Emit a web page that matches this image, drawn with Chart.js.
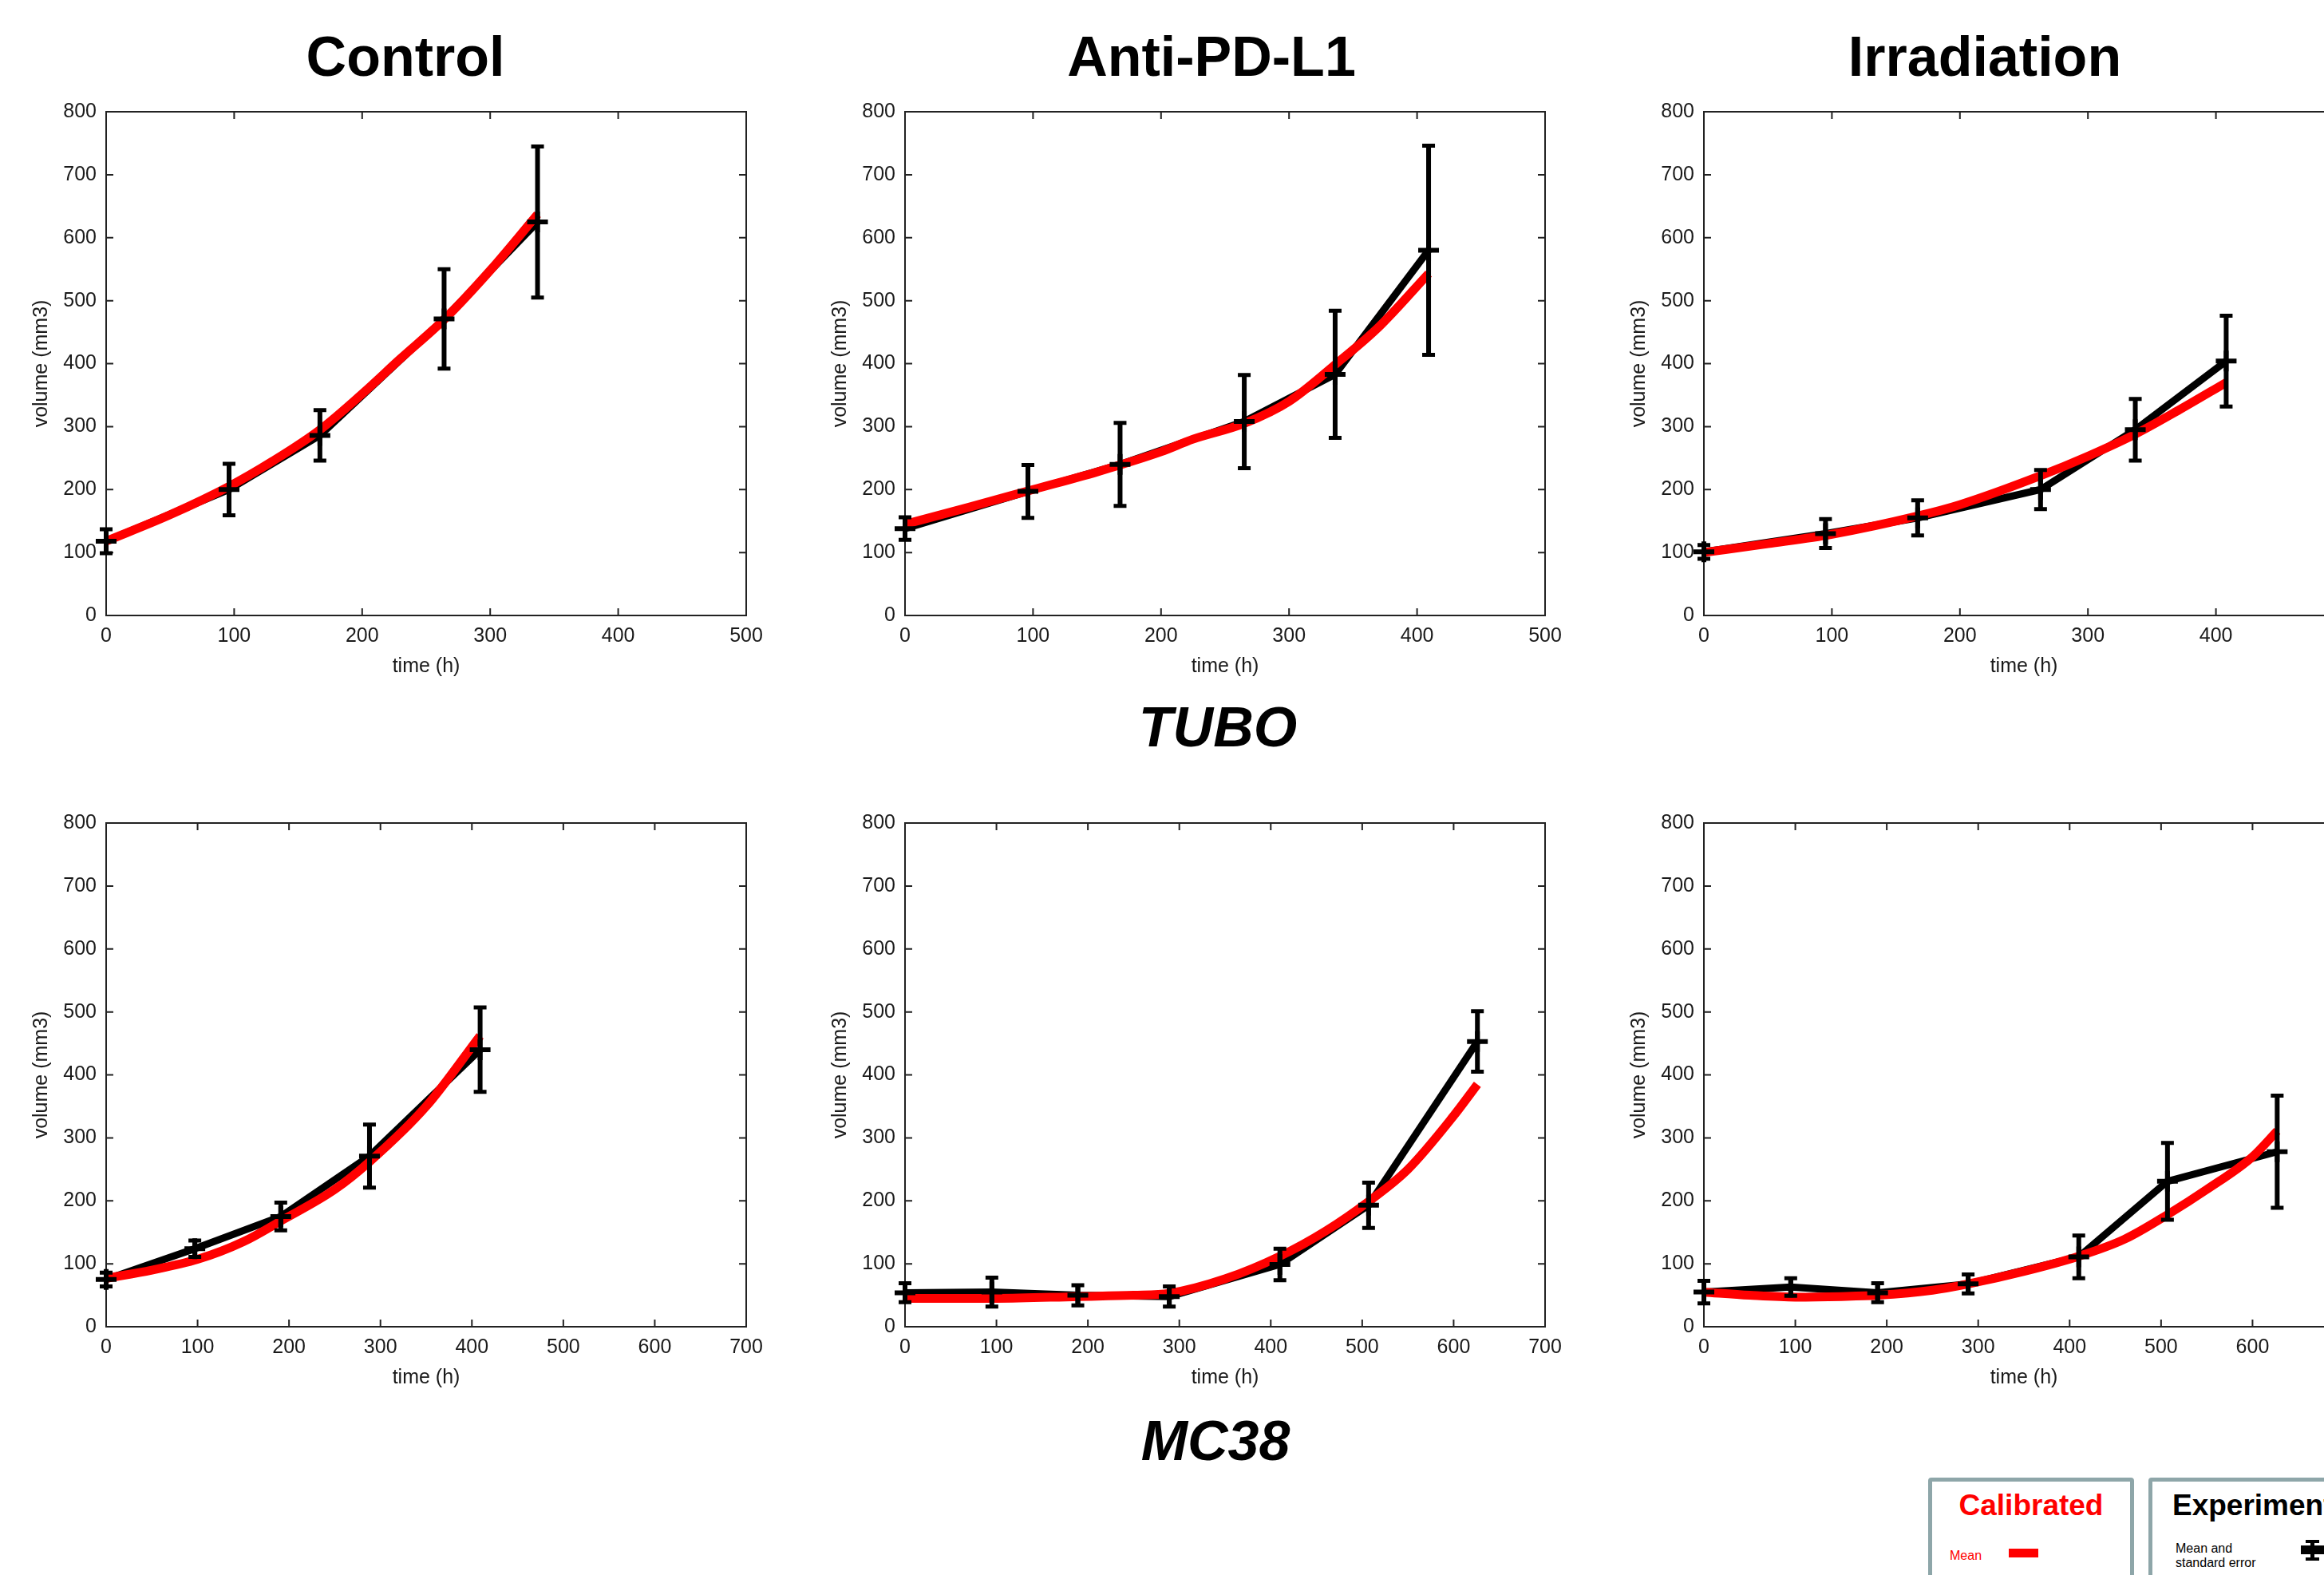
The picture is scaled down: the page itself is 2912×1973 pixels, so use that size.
<!DOCTYPE html>
<html>
<head>
<meta charset="utf-8">
<script src="https://cdn.jsdelivr.net/npm/chart.js@4.4.0/dist/chart.umd.min.js"></script>
<style>
  body { margin: 0; width: 2912px; height: 1973px; overflow: hidden; background: #fff; position: relative;
         font-family: "Liberation Sans", Arial, sans-serif; }
  canvas { position: absolute; }
  .title { position: absolute; width: 600px; text-align: center; font-weight: bold; font-size: 70px; line-height: 1; color: #000; }
  .group { font-style: italic; }
  .box { position: absolute; top: 1851px; height: 200px; border: 5px solid #8ea6a9; border-radius: 4px; box-sizing: border-box; }
  .txt { position: absolute; line-height: 1; white-space: nowrap; }
  .blk { position: absolute; background: #000; }
</style>
</head>
<body>

<div class="title" style="left:208px; top:36px;">Control</div>
<div class="title" style="left:1218px; top:36px;">Anti-PD-L1</div>
<div class="title" style="left:2187px; top:36px;">Irradiation</div>
<div class="title group" style="left:1226px; top:876px;">TUBO</div>
<div class="title group" style="left:1223px; top:1770px;">MC38</div>

<canvas id="tuboControl" width="962" height="758" style="left:13px; top:113px;"></canvas>
<canvas id="tuboAnti" width="962" height="758" style="left:1014px; top:113px;"></canvas>
<canvas id="tuboIrr" width="962" height="758" style="left:2015px; top:113px;"></canvas>
<canvas id="mcControl" width="962" height="758" style="left:13px; top:1004px;"></canvas>
<canvas id="mcAnti" width="962" height="758" style="left:1014px; top:1004px;"></canvas>
<canvas id="mcIrr" width="962" height="758" style="left:2015px; top:1004px;"></canvas>

<!-- legend boxes -->
<div class="box" style="left:2416px; width:258px;"></div>
<div class="txt" style="left:2416px; width:258px; text-align:center; top:1867px; font-size:37px; font-weight:bold; color:#ff0000;">Calibrated</div>
<div class="txt" style="left:2443px; top:1941px; font-size:16px; color:#ff0000;">Mean</div>
<div class="blk" style="left:2517px; top:1940px; width:37px; height:11px; background:#ff0000;"></div>

<div class="box" style="left:2692px; width:320px;"></div>
<div class="txt" style="left:2722px; top:1867px; font-size:37px; font-weight:bold; color:#000;">Experimental</div>
<div class="txt" style="left:2726px; top:1931px; font-size:16px; line-height:18px; color:#000;">Mean and<br>standard error</div>
<div class="blk" style="left:2883px; top:1936px; width:40px; height:11px;"></div>
<div class="blk" style="left:2895px; top:1930px; width:5px; height:24px;"></div>
<div class="blk" style="left:2889px; top:1929px; width:17px; height:4px;"></div>
<div class="blk" style="left:2889px; top:1951px; width:17px; height:4px;"></div>

<script>
// TUBO - experimental mean, standard error, calibrated model
const tuboControlTime = [0, 96, 167, 264, 337];
const tuboControlMean = [118, 200, 286, 471, 625];
const tuboControlErr  = [19, 41, 40, 79, 120];
const tuboControlModelTime = [0, 50, 96, 130, 167, 200, 230, 264, 300, 337];
const tuboControlModel     = [118, 160, 205, 245, 295, 352, 408, 470, 548, 637];

const tuboAntiTime = [0, 96, 168, 265, 336, 409];
const tuboAntiMean = [138, 197, 240, 308, 383, 580];
const tuboAntiErr  = [18, 42, 66, 74, 101, 166];
const tuboAntiModelTime = [0, 50, 100, 150, 200, 225, 265, 300, 337, 370, 409];
const tuboAntiModel     = [145, 172, 200, 228, 260, 280, 305, 340, 400, 458, 543];

const tuboIrrTime = [0, 95, 167, 263, 337, 408];
const tuboIrrMean = [101, 130, 155, 200, 295, 404];
const tuboIrrErr  = [11, 23, 28, 31, 49, 72];
const tuboIrrModelTime = [0, 50, 100, 167, 200, 263, 300, 337, 370, 408];
const tuboIrrModel     = [100, 114, 129, 158, 176, 222, 253, 288, 325, 370];

// MC38
const mcControlTime = [0, 97, 191, 288, 409];
const mcControlMean = [75, 124, 175, 271, 440];
const mcControlErr  = [11, 13, 22, 50, 67];
const mcControlModelTime = [0, 50, 100, 150, 191, 250, 288, 350, 409];
const mcControlModel     = [77, 90, 107, 135, 168, 218, 262, 350, 462];

const mcAntiTime = [0, 95, 189, 289, 410, 507, 626];
const mcAntiMean = [54, 55, 50, 48, 99, 193, 453];
const mcAntiErr  = [15, 23, 16, 16, 25, 36, 48];
const mcAntiModelTime = [0, 100, 189, 250, 289, 350, 410, 460, 507, 550, 600, 626];
const mcAntiModel     = [45, 45, 48, 50, 53, 76, 112, 152, 199, 250, 335, 385];

const mcIrrTime = [0, 95, 190, 289, 410, 507, 627];
const mcIrrMean = [55, 63, 54, 68, 111, 231, 278];
const mcIrrErr  = [18, 14, 15, 15, 34, 61, 89];
const mcIrrModelTime = [0, 50, 100, 150, 190, 250, 289, 350, 410, 460, 507, 550, 600, 627];
const mcIrrModel     = [55, 50, 47, 48, 50, 58, 68, 88, 112, 139, 178, 218, 270, 311];

const yMax = 800;
const xMaxTubo = 500;
const xMaxMc = 700;

Chart.defaults.font.family = '"Liberation Sans", Arial, sans-serif';
Chart.defaults.color = '#1a1a1a';

function toPoints(xs, ys) {
  return xs.map((x, i) => ({ x: x, y: ys[i] }));
}

// matlab style box with ticks pointing inside
const boxPlugin = {
  id: 'box',
  beforeDatasetsDraw(chart) {
    const { ctx, chartArea: a, scales } = chart;
    ctx.save();
    ctx.strokeStyle = '#222';
    ctx.lineWidth = 2;
    ctx.strokeRect(a.left, a.top, a.right - a.left, a.bottom - a.top);
    scales.x.ticks.forEach(t => {
      const px = scales.x.getPixelForValue(t.value);
      ctx.beginPath();
      ctx.moveTo(px, a.bottom); ctx.lineTo(px, a.bottom - 9);
      ctx.moveTo(px, a.top); ctx.lineTo(px, a.top + 9);
      ctx.stroke();
    });
    scales.y.ticks.forEach(t => {
      const py = scales.y.getPixelForValue(t.value);
      ctx.beginPath();
      ctx.moveTo(a.left, py); ctx.lineTo(a.left + 9, py);
      ctx.moveTo(a.right, py); ctx.lineTo(a.right - 9, py);
      ctx.stroke();
    });
    ctx.restore();
  }
};

const errorBarsPlugin = {
  id: 'errorBars',
  afterDatasetsDraw(chart) {
    const ds = chart.data.datasets[0];
    const xs = chart.scales.x, ys = chart.scales.y;
    const ctx = chart.ctx;
    ctx.save();
    ctx.strokeStyle = '#000';
    ds.data.forEach((p, i) => {
      const e = ds.errors[i];
      const px = xs.getPixelForValue(p.x);
      const py = ys.getPixelForValue(p.y);
      const hi = ys.getPixelForValue(p.y + e);
      const lo = ys.getPixelForValue(p.y - e);
      ctx.lineWidth = 6;
      ctx.beginPath();
      ctx.moveTo(px, hi); ctx.lineTo(px, lo);
      ctx.stroke();
      ctx.lineWidth = 5;
      ctx.beginPath();
      ctx.moveTo(px - 8, hi); ctx.lineTo(px + 8, hi);
      ctx.moveTo(px - 8, lo); ctx.lineTo(px + 8, lo);
      ctx.stroke();
      ctx.lineWidth = 6;
      ctx.beginPath();
      ctx.moveTo(px - 13, py); ctx.lineTo(px + 13, py);
      ctx.moveTo(px, py - 13); ctx.lineTo(px, py + 13);
      ctx.stroke();
    });
    ctx.restore();
  }
};

function criaGrafico(id, time, mean, err, modelTime, model, xMax) {
  return new Chart(document.getElementById(id), {
    type: 'scatter',
    data: {
      datasets: [{
        label: 'Experimental',
        data: toPoints(time, mean),
        errors: err,
        order: 2,
        showLine: true,
        borderColor: '#000',
        borderWidth: 9,
        pointRadius: 0,
        tension: 0
      }, {
        label: 'Calibrated',
        data: toPoints(modelTime, model),
        order: 1,
        showLine: true,
        borderColor: '#ff0000',
        borderWidth: 11,
        pointRadius: 0,
        cubicInterpolationMode: 'monotone'
      }]
    },
    options: {
      responsive: false,
      animation: false,
      layout: { autoPadding: false, padding: { left: 0, top: 20, right: 40, bottom: 0 } },
      plugins: { legend: { display: false }, tooltip: { enabled: false } },
      scales: {
        x: {
          type: 'linear', min: 0, max: xMax,
          grid: { display: false, drawTicks: false },
          border: { display: false },
          ticks: { stepSize: 100, padding: 11, font: { size: 25 }, maxRotation: 0 },
          title: { display: true, text: 'time (h)', font: { size: 25 }, padding: { top: 0, bottom: 21 } },
          afterFit(scale) { scale.height = 100; }
        },
        y: {
          type: 'linear', min: 0, max: yMax,
          grid: { display: false, drawTicks: false },
          border: { display: false },
          ticks: { stepSize: 100, padding: 12, font: { size: 25 } },
          title: { display: true, text: 'volume (mm3)', font: { size: 25 }, padding: { top: 24, bottom: 0 } },
          afterFit(scale) { scale.width = 120; }
        }
      }
    },
    plugins: [boxPlugin, errorBarsPlugin]
  });
}

criaGrafico('tuboControl', tuboControlTime, tuboControlMean, tuboControlErr, tuboControlModelTime, tuboControlModel, xMaxTubo);
criaGrafico('tuboAnti', tuboAntiTime, tuboAntiMean, tuboAntiErr, tuboAntiModelTime, tuboAntiModel, xMaxTubo);
criaGrafico('tuboIrr', tuboIrrTime, tuboIrrMean, tuboIrrErr, tuboIrrModelTime, tuboIrrModel, xMaxTubo);
criaGrafico('mcControl', mcControlTime, mcControlMean, mcControlErr, mcControlModelTime, mcControlModel, xMaxMc);
criaGrafico('mcAnti', mcAntiTime, mcAntiMean, mcAntiErr, mcAntiModelTime, mcAntiModel, xMaxMc);
criaGrafico('mcIrr', mcIrrTime, mcIrrMean, mcIrrErr, mcIrrModelTime, mcIrrModel, xMaxMc);
</script>
</body>
</html>
